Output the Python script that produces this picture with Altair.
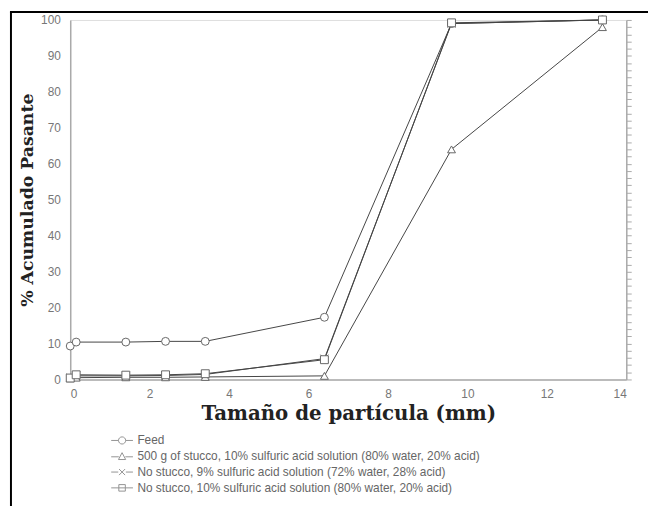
import altair as alt
import pandas as pd

sizes = [0, 0.15, 1.4, 2.4, 3.4, 6.4, 9.6, 13.4]
feed = [9.3, 10.4, 10.4, 10.6, 10.6, 17.3, 99.0, 100.0]
stucco500 = [0.3, 0.5, 0.6, 0.6, 0.7, 1.0, 64.0, 98.0]
nostucco9 = [0.5, 1.0, 1.0, 1.1, 1.4, 5.8, 99.0, 100.0]
nostucco10 = [0.4, 1.3, 1.2, 1.3, 1.6, 5.5, 99.2, 100.0]

series_names = [
    "Feed",
    "500 g of stucco, 10% sulfuric acid solution (80% water, 20% acid)",
    "No stucco, 9% sulfuric acid solution (72% water, 28% acid)",
    "No stucco, 10% sulfuric acid solution (80% water, 20% acid)",
]
series_values = [feed, stucco500, nostucco9, nostucco10]

marker_shapes = [
    "circle",
    "triangle-up",
    "M-1,-1L1,1M-1,1L1,-1",
    "square",
]
legend_shapes = [
    "M-1,0H-0.33M0.33,0H1M-0.33,0A0.33,0.33 0 1,0 0.33,0A0.33,0.33 0 1,0 -0.33,0",
    "M-1,0.05H-0.3M0.3,0.05H1M-0.33,0.3L0,-0.33L0.33,0.3Z",
    "M-1,0H-0.35M0.35,0H1M-0.28,-0.28L0.28,0.28M-0.28,0.28L0.28,-0.28",
    "M-1,0H1M-0.3,-0.3H0.3V0.3H-0.3Z",
]

rows = []
for name, vals in zip(series_names, series_values):
    for x, y in zip(sizes, vals):
        rows.append({"size": x, "pct": y, "series": name})
df = pd.DataFrame(rows)

xscale = alt.Scale(domain=[0, 14], nice=False)
yscale = alt.Scale(domain=[0, 100], nice=False)

base = alt.Chart(df)

lines = base.mark_line(color="#444", strokeWidth=1).encode(
    x=alt.X("size:Q", scale=xscale,
            axis=alt.Axis(values=[0, 2, 4, 6, 8, 10, 12, 14], title="Tamaño de partícula (mm)",
                          titleFont="DejaVu Serif", titleFontSize=20, titleFontWeight="bold",
                          titleColor="#222", titlePadding=5, labelFont="Liberation Sans",
                          labelFontSize=12, labelColor="#777", labelPadding=9, ticks=False,
                          domainColor="#aaa", domainWidth=1.5, grid=False)),
    y=alt.Y("pct:Q", scale=yscale,
            axis=alt.Axis(values=list(range(0, 101, 10)), title="% Acumulado Pasante",
                          titleFont="DejaVu Serif", titleFontSize=17.5, titleFontWeight="bold",
                          titleColor="#222", titlePadding=4, labelFont="Liberation Sans",
                          labelFontSize=12, labelColor="#777", labelPadding=10, ticks=False,
                          domainColor="#aaa", domainWidth=1.5, grid=False)),
    detail="series:N",
    order="size:Q",
)

points = base.mark_point(filled=False, fill="white", fillOpacity=1, stroke="#666",
                         strokeWidth=1, size=64, opacity=1).encode(
    x=alt.X("size:Q", scale=xscale),
    y=alt.Y("pct:Q", scale=yscale,
            axis=alt.Axis(orient="right", values=list(range(0, 101, 2)), labels=False,
                          title=None, ticks=True, tickSize=5, tickColor="#aaa",
                          domainColor="#aaa", domainWidth=1.5, grid=False)),
    shape=alt.Shape("series:N", scale=alt.Scale(domain=series_names, range=marker_shapes),
                    legend=None),
)

legend_layer = base.transform_filter(alt.datum.size < -100).mark_point(
    filled=False, stroke="#666").encode(
    x=alt.X("size:Q", scale=xscale),
    y=alt.Y("pct:Q", scale=yscale, axis=None),
    shape=alt.Shape("series2:N", scale=alt.Scale(domain=series_names, range=legend_shapes),
                    legend=alt.Legend(title=None, orient="none", legendX=41, legendY=418,
                                      symbolSize=484, symbolStrokeColor="#666",
                                      symbolFillColor="white", symbolStrokeWidth=1,
                                      clipHeight=15.5, rowPadding=0, labelOffset=4,
                                      labelFont="Liberation Sans", labelFontSize=12,
                                      labelColor="#666", labelLimit=0)),
)

frame = alt.Chart(alt.Data(values=[{}]))
frame_left = frame.mark_rule(color="black", strokeWidth=2).encode(
    x=alt.value(-60), y=alt.value(-8), y2=alt.value(495))
frame_top = frame.mark_rule(color="black", strokeWidth=2).encode(
    x=alt.value(-61), x2=alt.value(600), y=alt.value(-8))

chart = alt.layer(lines, points, legend_layer, frame_left, frame_top).resolve_scale(
    shape="independent").resolve_axis(y="independent").properties(
    width=563, height=364,
    autosize=alt.AutoSizeParams(type="none"),
    padding={"left": 63, "top": 9, "right": 22, "bottom": 125},
).configure_view(stroke="#aaa", strokeWidth=1.5).configure(background="white")

chart.save("out.html", embed_options={"renderer": "svg", "actions": False})
